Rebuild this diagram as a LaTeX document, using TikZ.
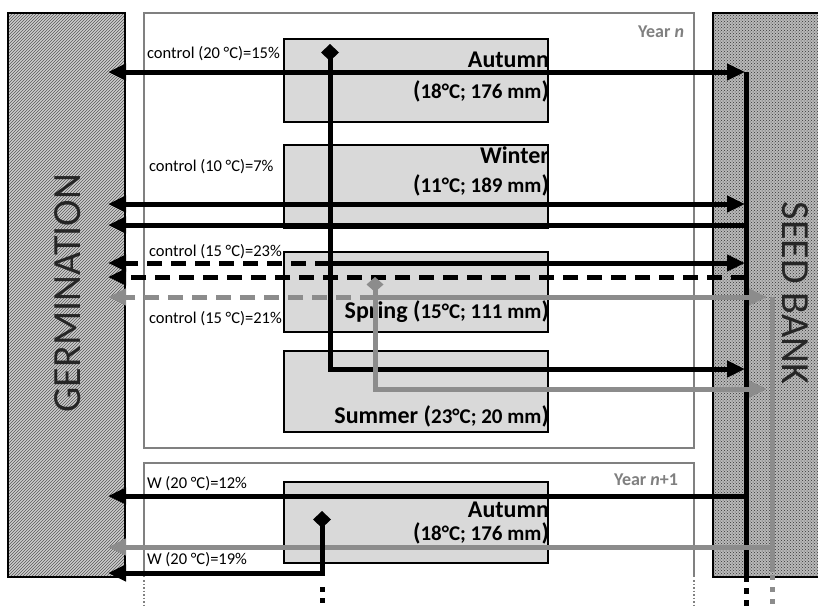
\documentclass[tikz,border=0pt]{standalone}
\usepackage{fontspec}
\setmainfont{Carlito}
\usetikzlibrary{arrows.meta,patterns}
\definecolor{seasongray}{RGB}{217,217,217}
\definecolor{arrgray}{RGB}{140,140,140}
\definecolor{yeargray}{RGB}{128,128,128}
\definecolor{germfill}{RGB}{205,205,205}
\definecolor{sbfill}{RGB}{185,185,185}
\newcommand\inr[1]{{\fontsize{21}{21}\selectfont #1}}
\begin{document}
\begin{tikzpicture}[x=1pt,y=-1pt,
  every node/.style={inner sep=0pt, outer sep=0pt},
  blk/.style={line width=5pt, black, line join=miter},
  gry/.style={line width=5pt, arrgray, line join=miter},
  dsh/.style={dash pattern=on 15pt off 9pt},
  tri/.tip={Triangle[length=18pt,width=16pt]},
  dmd/.tip={Diamond[length=17pt,width=18pt]},
  gdmd/.tip={Diamond[length=15pt,width=17pt]},
  season/.style={draw=black, line width=2pt, fill=seasongray, anchor=north west, minimum width=264pt},
  yearbox/.style={draw=yeargray, line width=2pt},
  lab/.style={anchor=base west, font=\fontsize{16.5}{16.5}\selectfont},
  stitle/.style={anchor=base east, font=\bfseries\fontsize{24}{24}\selectfont},
  ytitle/.style={anchor=base east, text=yeargray, font=\bfseries\fontsize{18}{18}\selectfont},
  big/.style={font=\fontsize{40}{40}\selectfont, text=black!85},
]
\useasboundingbox (0,0) rectangle (818,605);
\fill[white] (0,0) rectangle (818,605);

% side boxes
\node[draw=black, line width=2pt, preaction={fill=germfill}, pattern=north east lines, pattern color=black!65,
      anchor=north west, minimum width=117pt, minimum height=564pt] (germ) at (8,13) {};
\node[draw=black, line width=2pt, preaction={fill=sbfill}, pattern=crosshatch dots, pattern color=black!80,
      anchor=north west, minimum width=115pt, minimum height=564pt] (sb) at (713,13) {};
\node[big, rotate=90] (germT) at (68,293) {GERMINATION};
\node[big, rotate=-90] (sbT) at (795,293) {SEED BANK};

% year boxes
\node[yearbox, anchor=north west, minimum width=550pt, minimum height=435pt] (yn) at (144,13) {};
\draw[yearbox] (144,577) -- (144,463) -- (694,463) -- (694,577);
\draw[yeargray, line width=1.5pt, dash pattern=on 1.5pt off 2pt] (144,580) -- (144,605);
\draw[yeargray, line width=1.5pt, dash pattern=on 1.5pt off 2pt] (694,580) -- (694,605);
\node[ytitle] (ynT) at (684,37) {Year \textit{n}};
\node[ytitle] (yn1T) at (678,485) {Year \textit{n}+1};

% season boxes
\node[season, minimum height=83pt] (aut) at (284,39) {};
\node[season, minimum height=83pt] (win) at (284,145) {};
\node[season, minimum height=80pt] (spr) at (284,252) {};
\node[season, minimum height=81pt] (sum) at (284,351) {};
\node[season, minimum height=81pt] (aut2) at (284,482) {};

\node[stitle] (autA) at (549,67) {Autumn};
\node[stitle] (autB) at (549,98) {(\inr{18°C; 176 mm})};
\node[stitle] (winA) at (549,163) {Winter};
\node[stitle] (winB) at (549,192) {(\inr{11°C; 189 mm})};
\node[stitle] (sprA) at (549,318) {Spring (\inr{15°C; 111 mm})};
\node[stitle] (sumA) at (549,423) {Summer (\inr{23°C; 20 mm})};
\node[stitle] (aut2A) at (549,517) {Autumn};
\node[stitle] (aut2B) at (549,540) {(\inr{18°C; 176 mm})};

% labels
\node[lab] (l1) at (147,58) {control (20 °C)=15\%};
\node[lab] (l2) at (149,171) {control (10 °C)=7\%};
\node[lab] (l3) at (149,256) {control (15 °C)=23\%};
\node[lab] (l4) at (149,323) {control (15 °C)=21\%};
\node[lab] (l5) at (147,488) {W (20 °C)=12\%};
\node[lab] (l6) at (147,564) {W (20 °C)=19\%};

% coordinates
\coordinate (g1) at (108,72);   \coordinate (s1) at (745,72);
\coordinate (g2) at (108,204);  \coordinate (s2) at (745,204);
\coordinate (g3) at (108,225);  \coordinate (s3) at (746,225);
\coordinate (g4) at (108,263);  \coordinate (m4) at (330,263); \coordinate (s4) at (745,263);
\coordinate (g5) at (108,277);  \coordinate (s5) at (746,277);
\coordinate (g6) at (108,297);  \coordinate (m6) at (375,297); \coordinate (s6) at (767,297);
\coordinate (d1) at (330,44);   \coordinate (s7) at (745,369);
\coordinate (d2) at (375,277);  \coordinate (s8) at (767,389);
\coordinate (g9) at (108,496);  \coordinate (s9) at (746,496);
\coordinate (g10) at (108,547); \coordinate (s10) at (772,547);
\coordinate (d3) at (322,511);  \coordinate (g11) at (108,573);
\coordinate (sbTop) at (746,72); \coordinate (sbBot) at (746,582);
\coordinate (sgTop) at (772,297); \coordinate (sgBot) at (772,572);

% seed bank verticals
\draw[blk] (sbTop) -- (sbBot);
\draw[blk, dash pattern=on 6pt off 6pt] (746,588) -- (746,612);
\draw[gry] (sgTop) -- (sgBot);
\draw[gry, dash pattern=on 5pt off 7pt] (772,575) -- (772,612);

% year n arrows
\draw[blk, tri-tri] (g1) -- (s1);
\draw[blk, tri-tri] (g2) -- (s2);
\draw[blk, -tri] (s3) -- (g3);
\draw[blk, dsh, -tri] (m4) -- (g4);
\draw[blk, -tri] (m4) -- (s4);
\draw[blk, dsh, -tri] (s5) -- (g5);
\draw[gry, dsh, -tri] (m6) -- (g6);
\draw[gry, -tri] (m6) -- (s6);
\draw[blk, dmd-tri] (d1) |- (s7);
\draw[gry, gdmd-tri] (d2) |- (s8);

% year n+1 arrows
\draw[blk, -tri] (s9) -- (g9);
\draw[gry, -tri] (s10) -- (g10);
\draw[blk, dmd-tri] (d3) |- (g11);
\draw[blk, dash pattern=on 5pt off 6pt] (322,587) -- (322,612);
\end{tikzpicture}
\end{document}
